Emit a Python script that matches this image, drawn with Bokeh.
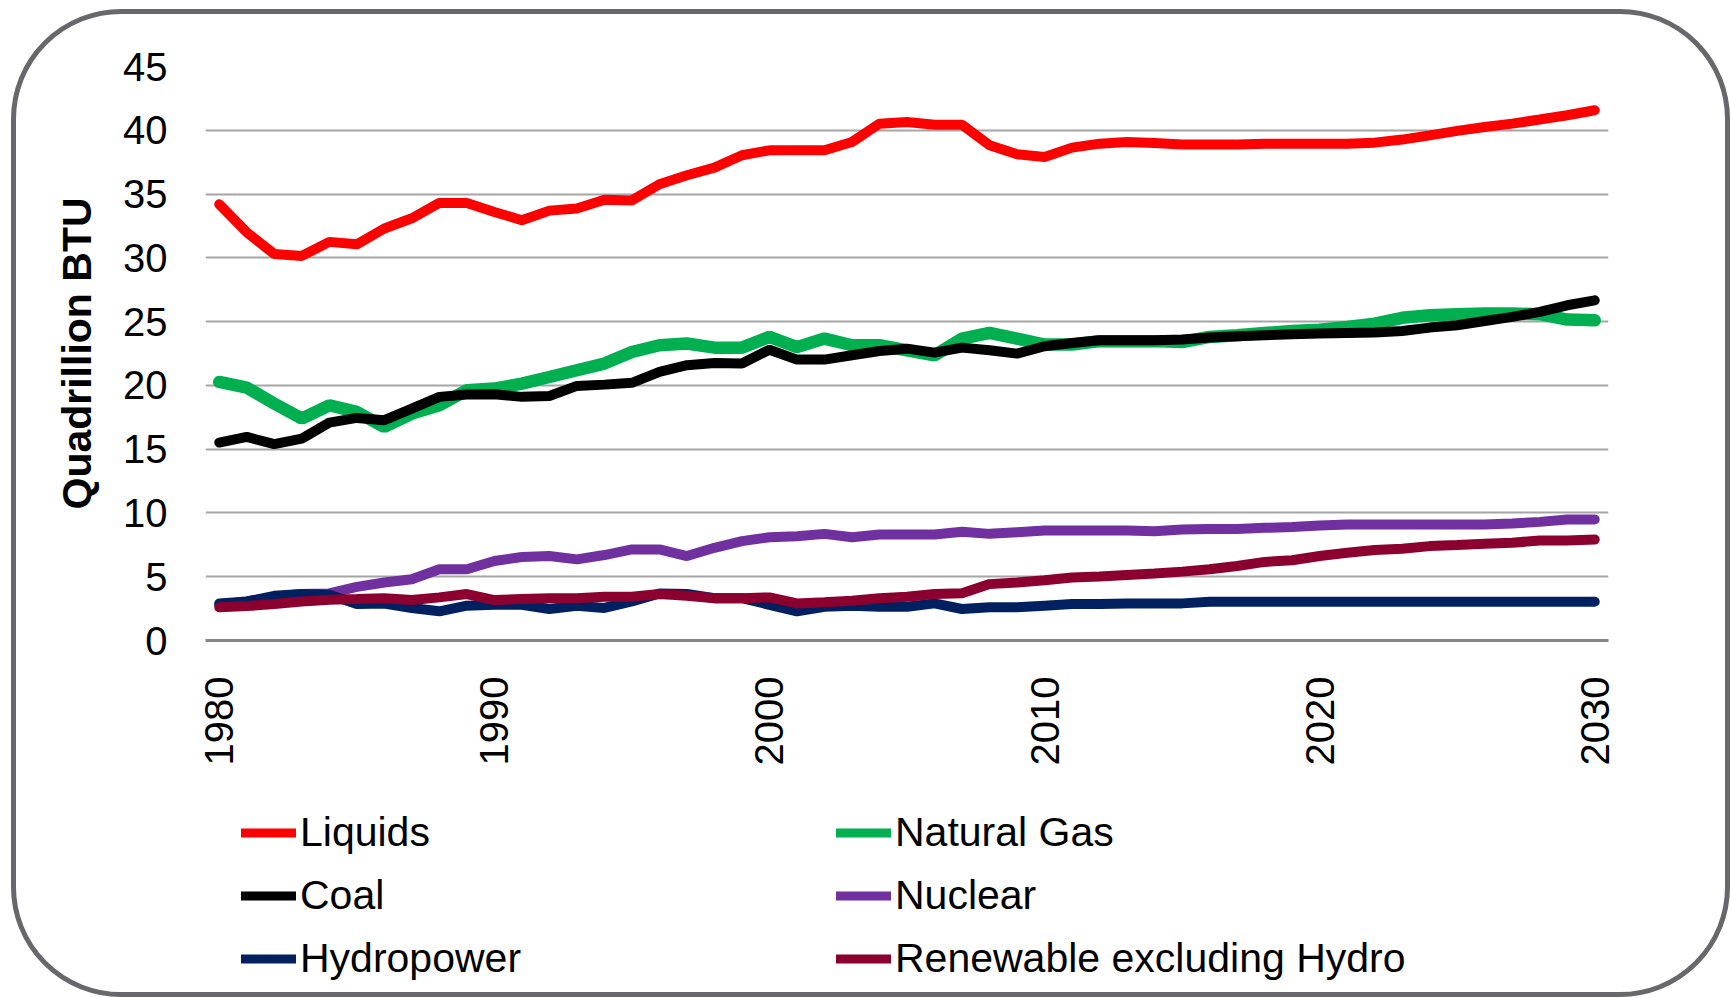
import math
from bokeh.plotting import figure
from bokeh.layouts import column
from bokeh.models import Legend, LegendItem, FixedTicker, Range1d, ColumnDataSource
from bokeh.embed import file_html
from bokeh.resources import INLINE

years = list(range(1980, 2031))
tick_years = [1980, 1990, 2000, 2010, 2020, 2030]
tick_values = [0, 5, 10, 15, 20, 25, 30, 35, 40, 45]

liquids = [34.2, 32.0, 30.3, 30.15, 31.25, 31.06, 32.3, 33.1, 34.3, 34.3, 33.6, 32.95, 33.7, 33.86, 34.56, 34.5, 35.77,
           36.47, 37.07, 38.04, 38.43, 38.43, 38.43, 39.08, 40.52, 40.65, 40.44, 40.44, 38.82, 38.12, 37.9, 38.64, 38.95, 39.08,
           39.0, 38.88, 38.88, 38.88, 38.95, 38.95, 38.95, 38.95, 39.03, 39.27, 39.6, 39.95, 40.26, 40.52, 40.84, 41.18, 41.57]
natural_gas = [20.27, 19.83, 18.57, 17.4, 18.44, 17.92, 16.74, 17.79, 18.44, 19.62, 19.75, 20.14, 20.66, 21.19, 21.71, 22.62, 23.15,
               23.28, 22.96, 22.96, 23.8, 23.0, 23.67, 23.15, 23.15, 22.75, 22.36, 23.67, 24.11, 23.67, 23.2, 23.2, 23.47, 23.47,
               23.47, 23.4, 23.8, 23.93, 24.1, 24.27, 24.37, 24.58, 24.84, 25.3, 25.5, 25.58, 25.63, 25.63, 25.58, 25.16, 25.1]
coal = [15.52, 15.96, 15.39, 15.83, 17.08, 17.45, 17.27, 18.18, 19.1, 19.28, 19.3, 19.1, 19.17, 19.96, 20.06, 20.2, 21.06,
        21.58, 21.76, 21.71, 22.8, 22.02, 22.02, 22.36, 22.7, 22.88, 22.57, 22.96, 22.75, 22.49, 23.07, 23.33, 23.54, 23.54,
        23.54, 23.59, 23.75, 23.85, 23.93, 24.0, 24.06, 24.11, 24.14, 24.27, 24.53, 24.71, 25.05, 25.37, 25.76, 26.28, 26.67]
nuclear = [2.8, 3.06, 3.43, 3.64, 3.69, 4.2, 4.55, 4.8, 5.58, 5.58, 6.23, 6.55, 6.62, 6.36, 6.7, 7.14, 7.14,
           6.62, 7.27, 7.79, 8.1, 8.18, 8.36, 8.1, 8.31, 8.31, 8.31, 8.52, 8.36, 8.49, 8.62, 8.62, 8.62, 8.62,
           8.57, 8.7, 8.75, 8.75, 8.83, 8.9, 9.01, 9.09, 9.09, 9.09, 9.09, 9.09, 9.09, 9.17, 9.3, 9.48, 9.48]
hydropower = [2.9, 3.06, 3.5, 3.64, 3.58, 2.86, 2.9, 2.55, 2.29, 2.73, 2.8, 2.8, 2.47, 2.73, 2.55, 3.06, 3.69,
              3.64, 3.32, 3.32, 2.8, 2.29, 2.65, 2.73, 2.65, 2.65, 2.91, 2.47, 2.6, 2.6, 2.73, 2.86, 2.86, 2.91,
              2.91, 2.91, 3.04, 3.04, 3.04, 3.04, 3.04, 3.04, 3.04, 3.04, 3.04, 3.04, 3.04, 3.04, 3.04, 3.04, 3.04]
renewable = [2.6, 2.7, 2.86, 3.06, 3.19, 3.25, 3.32, 3.17, 3.38, 3.64, 3.17, 3.25, 3.32, 3.32, 3.43, 3.43, 3.64,
             3.5, 3.32, 3.32, 3.38, 2.91, 2.99, 3.12, 3.32, 3.43, 3.64, 3.71, 4.42, 4.55, 4.73, 4.94, 5.01, 5.14,
             5.25, 5.4, 5.58, 5.84, 6.16, 6.29, 6.62, 6.88, 7.09, 7.19, 7.4, 7.48, 7.58, 7.66, 7.84, 7.84, 7.92]

series_names = ["Liquids", "Natural Gas", "Coal", "Nuclear", "Hydropower", "Renewable excluding Hydro"]
series_values = [liquids, natural_gas, coal, nuclear, hydropower, renewable]
series_colors = ["#ff0000", "#00b050", "#000000", "#7030a0", "#002060", "#8c0030"]
series_widths = [10, 12.5, 10, 10, 10, 10]

FONT = "Liberation Sans"

# ---------------- main chart ----------------
p = figure(frame_width=1403, frame_height=574, output_backend="svg", toolbar_location=None,
           x_range=Range1d(1979.5, 2030.5), y_range=Range1d(0, 45),
           min_border_left=189, min_border_right=117, min_border_top=52, min_border_bottom=160)
p.outline_line_color = None
p.background_fill_color = None
p.border_fill_color = None

p.xaxis.ticker = FixedTicker(ticks=tick_years)
p.xaxis.major_label_orientation = math.pi / 2
p.xaxis.major_label_text_font = FONT
p.xaxis.major_label_text_font_size = "40px"
p.xaxis.major_label_text_color = "black"
p.xaxis.major_label_standoff = 36
p.xaxis.major_tick_line_color = None
p.xaxis.major_tick_out = 0
p.xaxis.major_tick_in = 0
p.xaxis.minor_tick_line_color = None
p.xaxis.axis_line_color = "#878787"
p.xaxis.axis_line_width = 3

p.yaxis.ticker = FixedTicker(ticks=tick_values)
p.yaxis.major_label_text_font = FONT
p.yaxis.major_label_text_font_size = "40px"
p.yaxis.major_label_text_color = "black"
p.yaxis.major_label_standoff = 38
p.yaxis.major_tick_line_color = None
p.yaxis.major_tick_out = 0
p.yaxis.major_tick_in = 0
p.yaxis.minor_tick_line_color = None
p.yaxis.axis_line_color = None
p.yaxis.axis_label = "Quadrillion BTU"
p.yaxis.axis_label_text_font = FONT
p.yaxis.axis_label_text_font_style = "bold"
p.yaxis.axis_label_text_font_size = "41px"
p.yaxis.axis_label_text_color = "black"
p.yaxis.axis_label_standoff = 20

p.xgrid.grid_line_color = None
p.ygrid.ticker = FixedTicker(ticks=tick_values)
p.ygrid.grid_line_color = "#a6a6a6"
p.ygrid.grid_line_width = 2

for name, vals, col, w in zip(series_names, series_values, series_colors, series_widths):
    src = ColumnDataSource(dict(x=years, y=vals))
    p.line("x", "y", source=src, line_color=col, line_width=w, line_cap="round")

# ---------------- legend strip (same series, ranges chosen so only the legend shows) ----------------
q = figure(frame_width=1709, frame_height=192, output_backend="svg", toolbar_location=None,
           x_axis_type=None, y_axis_type=None, x_range=Range1d(1979.5, 2030.5), y_range=Range1d(100, 101),
           min_border_left=0, min_border_right=0, min_border_top=0, min_border_bottom=0)
q.outline_line_color = None
q.background_fill_color = None
q.border_fill_color = None
q.xgrid.grid_line_color = None
q.ygrid.grid_line_color = None

legend_renderers = []
for name, vals, col in zip(series_names, series_values, series_colors):
    src = ColumnDataSource(dict(x=years, y=vals))
    r = q.line("x", "y", source=src, line_color=col, line_width=9, line_cap="round")
    legend_renderers.append(r)

items = [LegendItem(label=series_names[i], renderers=[legend_renderers[i]]) for i in range(6)]
legend = Legend(items=items, location=(225, 10), orientation="horizontal", ncols=2,
                label_text_font=FONT, label_text_font_size="41px", label_text_color="black",
                glyph_width=55, glyph_height=41, label_height=41, label_width=520,
                label_standoff=4, spacing=16,
                padding=0, margin=0, border_line_color=None, background_fill_alpha=0)
q.add_layout(legend)

layout = column(p, q, spacing=0)
layout.styles = {"border": "5px solid #67676c", "border-radius": "110px", "box-sizing": "content-box",
                 "margin-left": "11px", "margin-top": "9px"}

open("out.html", "w").write(file_html(layout, INLINE))
